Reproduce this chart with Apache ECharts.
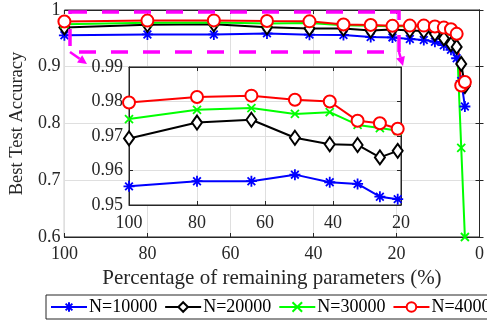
<!DOCTYPE html>
<html>
<head>
<meta charset="utf-8">
<script src="https://cdn.jsdelivr.net/npm/echarts@6/dist/echarts.min.js"></script>
<style>
html,body{margin:0;padding:0;background:#fff;}
#chart{width:487px;height:321px;}
</style>
</head>
<body>
<div id="chart"></div>
<script>
// remaining parameters (%)
var ratios = [100, 80, 64, 51.2, 40.96, 32.77, 26.21, 20.97, 16.78, 13.42, 10.74, 8.59, 6.87, 5.5, 4.4, 3.52];
var names = ['N=10000', 'N=20000', 'N=30000', 'N=40000'];
var accN10000 = [0.9554, 0.9569, 0.9569, 0.9588, 0.9566, 0.9561, 0.9524, 0.9517, 0.949, 0.947, 0.944, 0.938, 0.930, 0.915, 0.875, 0.830];
var accN20000 = [0.9693, 0.9739, 0.9747, 0.9695, 0.9676, 0.9674, 0.9638, 0.9657, 0.964, 0.963, 0.958, 0.950, 0.940, 0.935, 0.905, 0.866];
var accN30000 = [0.9749, 0.9776, 0.9781, 0.9764, 0.9769, 0.9732, 0.9723, 0.9715, 0.972, 0.9715, 0.970, 0.967, 0.963, 0.955, 0.757, 0.600];
var accN40000 = [0.9797, 0.9813, 0.9817, 0.9805, 0.9800, 0.9744, 0.9737, 0.9721, 0.9725, 0.9725, 0.971, 0.969, 0.966, 0.958, 0.867, 0.873];
var insetCount = 8; // zoomed part: 100% .. ~21%

var font = 'Liberation Serif';
var txt = '#262626';
var gridCol = '#dfdfdf';

var styles = [
  {color:'#0000ff', symbol:'path://M5,0L5,10M0,5L10,5M1.5,1.5L8.5,8.5M1.5,8.5L8.5,1.5', size:11},
  {color:'#000000', symbol:'emptyDiamond', size:[10,14]},
  {color:'#00ff00', symbol:'path://M0,0L10,10M0,10L10,0', size:8},
  {color:'#ff0000', symbol:'emptyCircle', size:12}
];
var accs = [accN10000, accN20000, accN30000, accN40000];

function pairs(ys, n){
  var out = [];
  for(var i=0;i<n;i++){ out.push([ratios[i], ys[i]]); }
  return out;
}

var series = [];
for(var k=0;k<4;k++){
  var base = {
    name:names[k],
    type:'line',
    symbol:styles[k].symbol,
    symbolSize:styles[k].size,
    symbolKeepAspect:true,
    lineStyle:{color:styles[k].color,width:2},
    itemStyle:{color:styles[k].color,borderColor:styles[k].color,borderWidth:1.8},
    emphasis:{disabled:true},
    animation:false
  };
  series.push(Object.assign({}, base, {xAxisIndex:0, yAxisIndex:0, z:3, data:pairs(accs[k], ratios.length)}));
  series.push(Object.assign({}, base, {xAxisIndex:2, yAxisIndex:2, z:4, data:pairs(accs[k], insetCount)}));
}

function axisCommon(extra){
  return Object.assign({
    axisLine:{show:true,lineStyle:{color:txt,width:1}},
    axisTick:{show:true,inside:true,length:4,lineStyle:{color:txt}},
    axisLabel:{show:false},
    splitLine:{show:false}
  }, extra);
}

var labelStyle = {color:txt,fontFamily:font,fontSize:18};

function arrow(x1,y1,x2,y2){
  var a = Math.atan2(y2-y1, x2-x1), L = 9, W = 4.5;
  var bx = x2 - L*Math.cos(a), by = y2 - L*Math.sin(a);
  return [
    {type:'line', z:100, shape:{x1:x1,y1:y1,x2:bx,y2:by}, style:{stroke:'#ff00ff',lineWidth:2.5}},
    {type:'polygon', z:100, shape:{points:[[x2,y2],[bx - W*Math.sin(a), by + W*Math.cos(a)],[bx + W*Math.sin(a), by - W*Math.cos(a)]]}, style:{fill:'#ff00ff'}}
  ];
}

var chart = echarts.init(document.getElementById('chart'));
chart.setOption({
  animation:false,
  backgroundColor:'#fff',
  grid:[
    {left:64, top:10, width:419, height:227, show:true, borderColor:txt, borderWidth:1, backgroundColor:'transparent', z:0},
    {left:129, top:67, width:272, height:138, show:true, borderColor:txt, borderWidth:1, backgroundColor:'#fff', z:1}
  ],
  xAxis:[
    axisCommon({type:'value', gridIndex:0, min:0, max:100, interval:20, inverse:true, position:'bottom',
      axisLabel:Object.assign({show:true, margin:8}, labelStyle),
      splitLine:{show:true,lineStyle:{color:gridCol,width:1}},
      name:'Percentage of remaining parameters (%)', nameLocation:'middle', nameGap:30,
      nameTextStyle:{color:txt,fontFamily:font,fontSize:21}}),
    axisCommon({type:'value', gridIndex:0, min:0, max:100, interval:20, inverse:true, position:'top'}),
    axisCommon({type:'value', gridIndex:1, min:20, max:100, interval:20, inverse:true, position:'bottom', z:2,
      axisLabel:Object.assign({show:true, margin:9}, labelStyle),
      splitLine:{show:true,lineStyle:{color:gridCol,width:1}}}),
    axisCommon({type:'value', gridIndex:1, min:20, max:100, interval:20, inverse:true, position:'top', z:2})
  ],
  yAxis:[
    axisCommon({type:'value', gridIndex:0, min:0.6, max:1, interval:0.1, position:'left',
      axisLabel:Object.assign({show:true, margin:4, formatter:function(v){return v>=0.999?'1':v.toFixed(1);}}, labelStyle),
      splitLine:{show:true,lineStyle:{color:gridCol,width:1}},
      name:'Best Test Accuracy', nameLocation:'middle', nameGap:32,
      nameTextStyle:{color:txt,fontFamily:font,fontSize:18.5}}),
    axisCommon({type:'value', gridIndex:0, min:0.6, max:1, interval:0.1, position:'right'}),
    axisCommon({type:'value', gridIndex:1, min:0.95, max:0.99, interval:0.01, position:'left', z:2,
      axisLabel:Object.assign({show:true, margin:6, formatter:function(v){return v.toFixed(2);}}, labelStyle),
      splitLine:{show:true,lineStyle:{color:gridCol,width:1}}}),
    axisCommon({type:'value', gridIndex:1, min:0.95, max:0.99, interval:0.01, position:'right', z:2})
  ],
  legend:{
    data:names,
    left:46, top:295, width:470,
    padding:[3,4,3,4],
    itemWidth:36, itemHeight:12, itemGap:7,
    borderColor:txt, borderWidth:1, backgroundColor:'#fff',
    textStyle:{color:'#000',fontFamily:font,fontSize:18,padding:[0,0,0,-3]},
    selectedMode:false
  },
  graphic:[
    {type:'rect', z:100, shape:{x:70,y:12,width:329,height:40},
      style:{fill:'none',stroke:'#ff00ff',lineWidth:3.5,lineDash:[17,15]}}
  ].concat(arrow(70,52,87,64)).concat(arrow(399,52,403,66)),
  series:series
});
</script>
</body>
</html>
